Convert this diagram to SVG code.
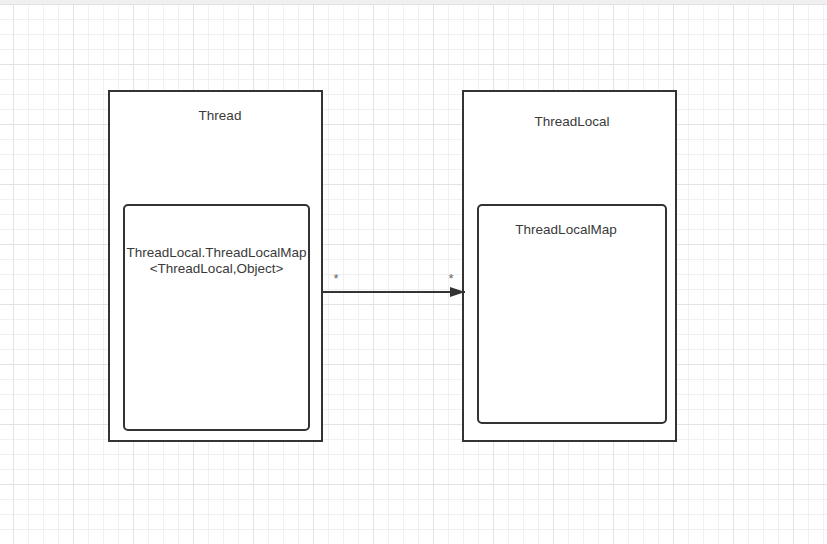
<svg xmlns="http://www.w3.org/2000/svg" width="827" height="544" viewBox="0 0 827 544">
  <defs>
    <pattern id="grid" patternUnits="userSpaceOnUse" x="13" y="4" width="60" height="60">
      <path d="M15.5 0V60M30.5 0V60M45.5 0V60M0 15.5H60M0 30.5H60M0 45.5H60" stroke="#f0f0f0" stroke-width="1" fill="none"/>
      <path d="M0.5 0V60M0 0.5H60" stroke="#e3e3e3" stroke-width="1" fill="none"/>
    </pattern>
    <marker id="arrow" markerUnits="userSpaceOnUse" markerWidth="16" markerHeight="12" refX="15" refY="5" orient="auto">
      <path d="M0 0L15 5L0 10Z" fill="#333"/>
    </marker>
  </defs>
  <style>
    .outer { fill: #ffffff; stroke: #333333; stroke-width: 2; }
    .inner { fill: #ffffff; stroke: #333333; stroke-width: 2; }
    .lbl { font-family: "Liberation Sans", Arial, sans-serif; font-size: 13.5px; fill: #3a3a3a; text-anchor: middle; }
    .mult { font-family: "Liberation Sans", Arial, sans-serif; font-size: 13px; fill: #666666; text-anchor: middle; }
    .conn { stroke: #333333; stroke-width: 2; fill: none; }
  </style>
  <rect x="0" y="0" width="827" height="544" fill="#ffffff"/>
  <rect x="0" y="4" width="827" height="540" fill="url(#grid)"/>
  <rect x="0" y="0" width="827" height="4" fill="#f0f0f0"/>

  <g id="thread">
    <rect class="outer" x="109" y="91" width="213" height="350"/>
    <text class="lbl" x="220" y="120">Thread</text>
  </g>
  <g id="threadLocalMapInThread">
    <rect class="inner" x="124" y="205" width="185" height="225" rx="4"/>
    <text class="lbl" x="216.5" y="257">ThreadLocal.ThreadLocalMap</text>
    <text class="lbl" x="216.5" y="273">&lt;ThreadLocal,Object&gt;</text>
  </g>
  <g id="threadLocal">
    <rect class="outer" x="463" y="91" width="213" height="350"/>
    <text class="lbl" x="572" y="126">ThreadLocal</text>
  </g>
  <g id="threadLocalMap">
    <rect class="inner" x="478" y="205" width="188" height="218" rx="4"/>
    <text class="lbl" x="566" y="234">ThreadLocalMap</text>
  </g>

  <g id="connectors">
    <line class="conn" x1="322" y1="292" x2="465" y2="292" marker-end="url(#arrow)"/>
    <text class="mult" x="336" y="283">*</text>
    <text class="mult" x="451" y="283">*</text>
  </g>
</svg>
